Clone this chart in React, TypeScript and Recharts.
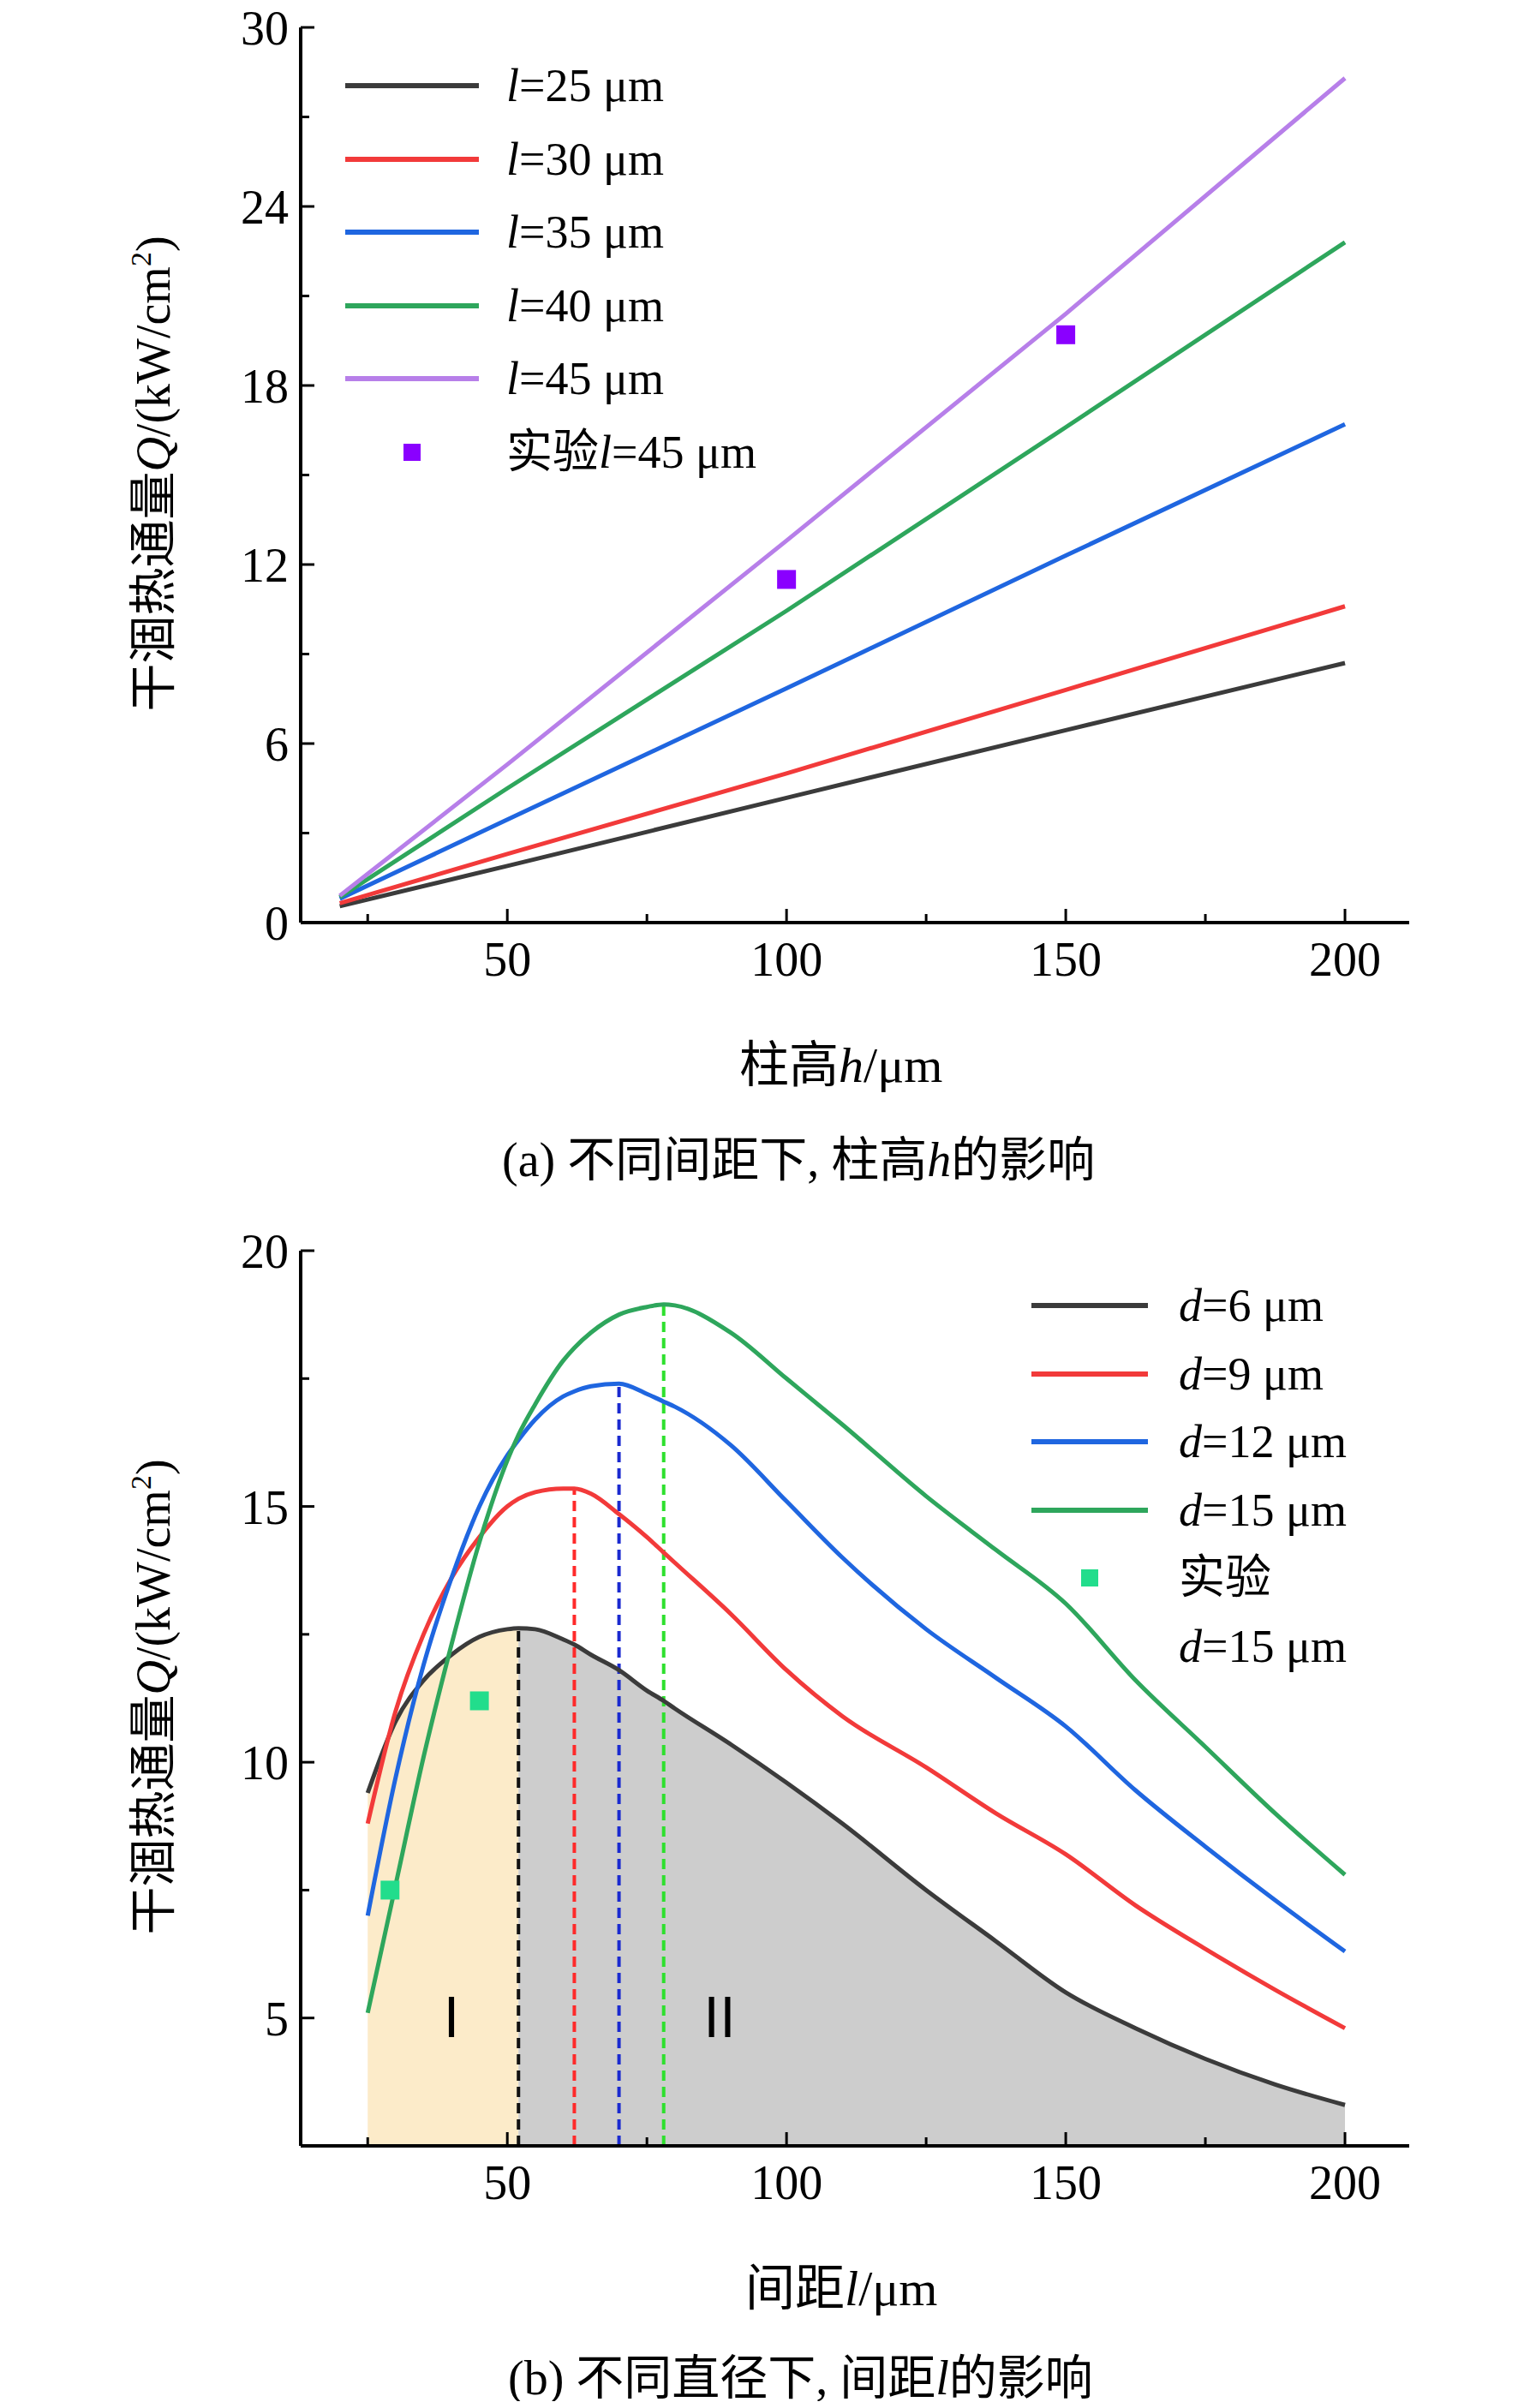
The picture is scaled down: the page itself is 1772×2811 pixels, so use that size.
import React from 'react';
import {
  ComposedChart,
  Line,
  Area,
  Scatter,
  XAxis,
  YAxis,
  ReferenceLine,
  ReferenceDot,
} from 'recharts';

const FONT = "'Liberation Serif', 'Noto Sans CJK SC', serif";

// (a) column height h
const hValues = [20, 50, 100, 150, 200];
const qL25 = [0.55, 1.9, 4.18, 6.45, 8.7];
const qL30 = [0.65, 2.3, 5.0, 7.8, 10.6];
const qL35 = [0.8, 3.45, 7.85, 12.3, 16.7];
const qL40 = [0.85, 4.5, 10.45, 16.6, 22.8];
const qL45 = [0.9, 5.3, 12.8, 20.4, 28.3];
const expH = [100, 150];
const expQa = [11.5, 19.7];

// (b) spacing l
const lValues = [25, 30, 35, 40, 45, 50, 52, 55, 60, 62, 65, 70, 75, 78, 80, 90, 100, 110, 125, 137.5, 150, 162.5, 175, 187.5, 200];
const qD6 = [9.4, 10.8, 11.6, 12.1, 12.45, 12.6, 12.62, 12.6, 12.4, 12.3, 12.1, 11.8, 11.4, 11.2, 11.05, 10.35, 9.6, 8.8, 7.5, 6.5, 5.5, 4.8, 4.2, 3.7, 3.3];
const qD9 = [8.8, 11.0, 12.5, 13.6, 14.4, 15.0, 15.15, 15.28, 15.35, 15.35, 15.25, 14.85, 14.4, 14.1, 13.9, 12.9, 11.8, 10.9, 9.9, 9.0, 8.2, 7.2, 6.35, 5.55, 4.8];
const qD12 = [7.0, 9.7, 11.9, 13.6, 15.0, 16.0, 16.3, 16.7, 17.15, 17.25, 17.35, 17.4, 17.2, 17.05, 16.95, 16.2, 15.1, 14.0, 12.6, 11.65, 10.7, 9.45, 8.35, 7.3, 6.3];
const qD15 = [5.1, 7.6, 10.1, 12.3, 14.3, 15.9, 16.4, 17.0, 17.85, 18.1, 18.4, 18.75, 18.9, 18.95, 18.93, 18.4, 17.5, 16.6, 15.2, 14.15, 13.1, 11.6, 10.3, 9.0, 7.8];
const expL = [29, 45];
const expQb = [7.5, 11.2];
const peakL = [52, 62, 70, 78];
const peakQ = [12.62, 15.35, 17.4, 18.95];

const xTicks = [25, 50, 75, 100, 125, 150, 175, 200];
const yTicksA = [0, 3, 6, 9, 12, 15, 18, 21, 24, 27, 30];
const yTicksB = [5, 7.5, 10, 12.5, 15, 17.5, 20];

const dataA = hValues.map((h, i) => ({ h, a: qL25[i], b: qL30[i], c: qL35[i], d: qL40[i], e: qL45[i] }));
const expA = expH.map((h, i) => ({ h, q: expQa[i] }));
const dataB = lValues.map((l, i) => ({
  h: l,
  a: qD6[i],
  b: qD9[i],
  c: qD12[i],
  d: qD15[i],
  zoneI: l <= 52 ? qD6[i] : null,
  zoneII: l >= 52 ? qD6[i] : null,
}));
const expB = expL.map((h, i) => ({ h, q: expQb[i] }));

const XTick = (props: any) => {
  const { x, y, payload } = props;
  const v = payload.value;
  const major = v % 50 === 0;
  return (
    <g>
      <line x1={x} y1={y} x2={x} y2={y - (major ? 16 : 10)} stroke="#000" strokeWidth={3} />
      {major && (
        <text x={x} y={y + 62} textAnchor="middle" fontSize={56} fontFamily={FONT} fill="#000">
          {v}
        </text>
      )}
    </g>
  );
};

const makeYTick = (step: number) => (props: any) => {
  const { x, y, payload } = props;
  const v = payload.value;
  const major = Math.abs(v / step - Math.round(v / step)) < 1e-6;
  return (
    <g>
      <line x1={x} y1={y} x2={x + (major ? 16 : 10)} y2={y} stroke="#000" strokeWidth={3} />
      {major && (
        <text x={x - 14} y={y + 20} textAnchor="end" fontSize={56} fontFamily={FONT} fill="#000">
          {v}
        </text>
      )}
    </g>
  );
};

const Square = (color: string) => (props: any) => {
  const { cx, cy } = props;
  return <rect x={cx - 11} y={cy - 11} width={22} height={22} fill={color} />;
};

const YLabel = ({ cy }: { cy: number }) => (
  <text
    transform={`translate(190, ${cy}) rotate(-90)`}
    textAnchor="middle"
    fontSize={56}
    fontFamily={FONT}
    fill="#000"
  >
    干涸热通量<tspan fontStyle="italic">Q</tspan>/(kW/cm<tspan fontSize={34} dy={-22}>2</tspan>
    <tspan dy={22}>)</tspan>
  </text>
);

type Item = { kind: 'line' | 'square'; color: string; label: React.ReactNode };

const LegendBox = ({ items, lineW, rowH, gap, top, left }: { items: Item[]; lineW: number; rowH: number; gap: number; top: number; left: number }) => (
  <div style={{ position: 'absolute', top, left, fontFamily: FONT, fontSize: 54, color: '#000' }}>
    {items.map((it, i) => (
      <div key={i} style={{ display: 'flex', alignItems: 'flex-start', height: rowH }}>
        <div style={{ width: lineW, height: 60, display: 'flex', alignItems: 'center', justifyContent: 'center' }}>
          {it.kind === 'line' ? (
            <div style={{ width: lineW, height: 6, background: it.color }} />
          ) : (
            <div style={{ width: 20, height: 20, background: it.color }} />
          )}
        </div>
        <div style={{ marginLeft: gap, lineHeight: '60px', whiteSpace: 'nowrap' }}>{it.label}</div>
      </div>
    ))}
  </div>
);

const C = { k: '#3b3b3b', r: '#f23a3a', b: '#1f66e0', g: '#2ea65c', p: '#b77fe9' };
const EXP_A = '#8a00ff';
const EXP_B = '#22dd8c';

const legendA: Item[] = [
  { kind: 'line', color: C.k, label: <span><i>l</i>=25 μm</span> },
  { kind: 'line', color: C.r, label: <span><i>l</i>=30 μm</span> },
  { kind: 'line', color: C.b, label: <span><i>l</i>=35 μm</span> },
  { kind: 'line', color: C.g, label: <span><i>l</i>=40 μm</span> },
  { kind: 'line', color: C.p, label: <span><i>l</i>=45 μm</span> },
  { kind: 'square', color: EXP_A, label: <span>实验<i>l</i>=45 μm</span> },
];

const legendB: Item[] = [
  { kind: 'line', color: C.k, label: <span><i>d</i>=6 μm</span> },
  { kind: 'line', color: C.r, label: <span><i>d</i>=9 μm</span> },
  { kind: 'line', color: C.b, label: <span><i>d</i>=12 μm</span> },
  { kind: 'line', color: C.g, label: <span><i>d</i>=15 μm</span> },
  { kind: 'square', color: EXP_B, label: <span>实验</span> },
  { kind: 'line', color: 'transparent', label: <span><i>d</i>=15 μm</span> },
];

const dashColors = ['#111', '#ff2a2a', '#1a2ad0', '#2ee02e'];

const frameAxes = (domainY: [number, number]) => [
  <XAxis key="xt" xAxisId="top" orientation="top" type="number" domain={[13, 211.5]} tick={false} tickLine={false} axisLine={{ stroke: '#000', strokeWidth: 4 }} height={0} />,
  <YAxis key="yr" yAxisId="right" orientation="right" type="number" domain={domainY} tick={false} tickLine={false} axisLine={{ stroke: '#000', strokeWidth: 4 }} width={0} />,
];

export default function App() {
  return (
    <div style={{ position: 'relative', width: 1756, height: 2795, fontFamily: FONT }}>
      <div style={{ position: 'absolute', top: -16, left: 0 }}>
        <ComposedChart width={1756} height={1286} data={dataA} margin={{ top: 40, right: 119, bottom: 0, left: 0 }}>
          <XAxis dataKey="h" type="number" domain={[13, 211.5]} ticks={xTicks} tick={<XTick />} tickLine={false} tickSize={0} tickMargin={0} axisLine={{ stroke: '#000', strokeWidth: 4 }} height={201} allowDataOverflow />
          <YAxis type="number" domain={[0, 30]} ticks={yTicksA} tick={makeYTick(6)} tickLine={false} tickSize={0} tickMargin={0} axisLine={{ stroke: '#000', strokeWidth: 4 }} width={343} />
          {frameAxes([0, 30])}
          <Line dataKey="a" stroke={C.k} strokeWidth={5} dot={false} isAnimationActive={false} />
          <Line dataKey="b" stroke={C.r} strokeWidth={5} dot={false} isAnimationActive={false} />
          <Line dataKey="c" stroke={C.b} strokeWidth={5} dot={false} isAnimationActive={false} />
          <Line dataKey="d" stroke={C.g} strokeWidth={5} dot={false} isAnimationActive={false} />
          <Line dataKey="e" stroke={C.p} strokeWidth={5} dot={false} isAnimationActive={false} />
          <Scatter data={expA} dataKey="q" fill={EXP_A} shape={Square(EXP_A)} isAnimationActive={false} />
        </ComposedChart>
      </div>
      <LegendBox items={legendA} lineW={156} rowH={85.5} gap={32} top={62} left={395} />
      <svg style={{ position: 'absolute', top: 0, left: 0 }} width={400} height={1100}>
        <YLabel cy={545} />
      </svg>
      <div style={{ position: 'absolute', top: 1188, width: 1756, paddingLeft: 855, boxSizing: 'border-box', fontSize: 58 }}>
        柱高<i>h</i>/μm
      </div>
      <div style={{ position: 'absolute', top: 1300, width: 1756, paddingLeft: 578, boxSizing: 'border-box', fontSize: 56 }}>
        (a) 不同间距下, 柱高<i>h</i>的影响
      </div>

      <div style={{ position: 'absolute', top: 1412, left: 0 }}>
        <ComposedChart width={1756} height={1286} data={dataB} margin={{ top: 40, right: 119, bottom: 0, left: 0 }}>
          <XAxis dataKey="h" type="number" domain={[13, 211.5]} ticks={xTicks} tick={<XTick />} tickLine={false} tickSize={0} tickMargin={0} axisLine={{ stroke: '#000', strokeWidth: 4 }} height={201} allowDataOverflow />
          <YAxis type="number" domain={[2.5, 20]} ticks={yTicksB} tick={makeYTick(5)} tickLine={false} tickSize={0} tickMargin={0} axisLine={{ stroke: '#000', strokeWidth: 4 }} width={343} allowDataOverflow />
          {frameAxes([2.5, 20])}
          <Area type="monotone" dataKey="zoneI" stroke="none" fill="#fcebc9" fillOpacity={1} baseValue={2.5} isAnimationActive={false} />
          <Area type="monotone" dataKey="zoneII" stroke="none" fill="#cdcdcd" fillOpacity={1} baseValue={2.5} isAnimationActive={false} />
          {peakL.map((l, i) => (
            <ReferenceLine key={l} segment={[{ x: l, y: 2.5 }, { x: l, y: peakQ[i] }]} stroke={dashColors[i]} strokeWidth={4} strokeDasharray="12 7" />
          ))}
          <Line type="monotone" dataKey="a" stroke={C.k} strokeWidth={5} dot={false} isAnimationActive={false} />
          <Line type="monotone" dataKey="b" stroke={C.r} strokeWidth={5} dot={false} isAnimationActive={false} />
          <Line type="monotone" dataKey="c" stroke={C.b} strokeWidth={5} dot={false} isAnimationActive={false} />
          <Line type="monotone" dataKey="d" stroke={C.g} strokeWidth={5} dot={false} isAnimationActive={false} />
          <Scatter data={expB} dataKey="q" fill={EXP_B} shape={Square(EXP_B)} isAnimationActive={false} />
          <ReferenceDot x={40} y={5} r={0} label={{ value: 'Ⅰ', fontSize: 64, fontFamily: FONT, fill: '#000', position: 'center' }} />
          <ReferenceDot x={88} y={5} r={0} label={{ value: 'Ⅱ', fontSize: 64, fontFamily: FONT, fill: '#000', position: 'center' }} />
        </ComposedChart>
      </div>
      <LegendBox items={legendB} lineW={136} rowH={79.5} gap={36} top={1486} left={1196} />
      <svg style={{ position: 'absolute', top: 1428, left: 0 }} width={400} height={1100}>
        <YLabel cy={545} />
      </svg>
      <div style={{ position: 'absolute', top: 2616, width: 1756, paddingLeft: 862, boxSizing: 'border-box', fontSize: 58 }}>
        间距<i>l</i>/μm
      </div>
      <div style={{ position: 'absolute', top: 2722, width: 1756, paddingLeft: 585, boxSizing: 'border-box', fontSize: 56 }}>
        (b) 不同直径下, 间距<i>l</i>的影响
      </div>
    </div>
  );
}
